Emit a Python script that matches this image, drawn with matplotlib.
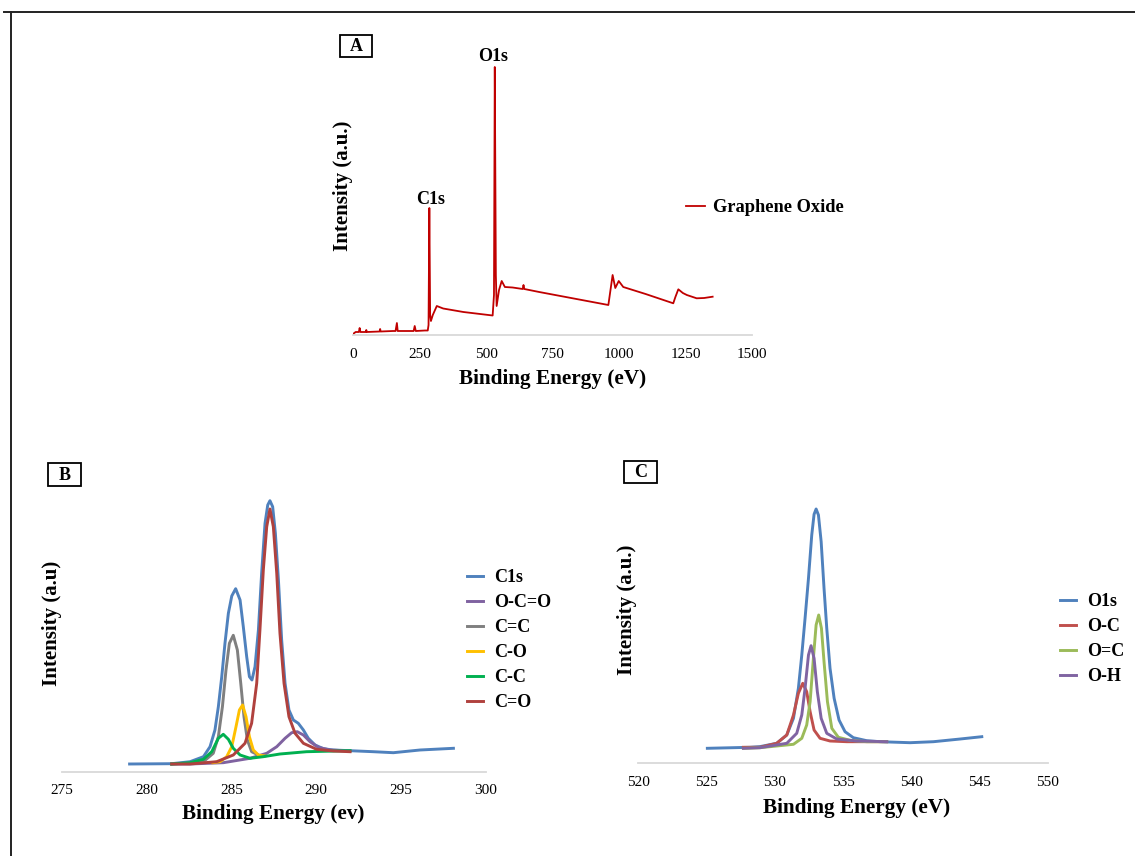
import matplotlib
matplotlib.use('Agg')
import matplotlib.pyplot as plt
from matplotlib.lines import Line2D
from matplotlib.patches import Rectangle

plt.rcParams['font.family'] = ['Liberation Serif', 'DejaVu Serif']

W, H = 1135, 856

# ---- panel A : survey spectrum (binding energy eV, intensity a.u.)
survey_ev = [0, 10, 22, 25, 28, 48, 50, 52, 100, 102, 104, 150, 160, 165, 168,
             200, 228, 232, 236, 270, 281, 284, 287, 290, 293, 300, 315, 339,
             415, 525, 530, 533, 537, 540, 549, 559, 571, 600, 638, 641, 644,
             700, 800, 900, 960, 968, 976, 986, 999, 1016, 1100, 1204, 1212,
             1223, 1240, 1255, 1292, 1320, 1352]
survey_int = [1, 3, 3, 7, 3, 3, 5, 3, 3.5, 6, 3.5, 4, 4, 12, 4,
              4, 4, 9, 4, 4.5, 4.5, 10, 127, 20, 14, 20, 29, 26.5,
              23, 19.5, 40, 268, 60, 29, 45, 54, 48, 47.5, 46, 50, 46,
              43, 38, 33, 30, 45, 60, 47, 54, 48, 41, 31.7, 38,
              45.7, 42, 40, 36.7, 37, 38.3]
survey_ticks = [0, 250, 500, 750, 1000, 1250, 1500]

# ---- panel B : C1s high resolution
c1s_ev = [279.0, 281.48, 282.56, 283.35, 283.74, 284.03, 284.23, 284.43, 284.62,
          284.82, 285.02, 285.25, 285.51, 285.7, 285.9, 286.06, 286.21, 286.39,
          286.59, 286.78, 286.98, 287.14, 287.27, 287.43, 287.59, 287.77,
          287.96, 288.16, 288.39, 288.65, 288.94, 289.24, 289.53, 289.93,
          290.42, 291.0, 291.99, 293.36, 294.54, 296.11, 298.08]
c1s_int = [7.7, 8, 10, 15, 25, 41.7, 65, 95, 128.4,
           158.4, 175.7, 183, 171.7, 145, 115, 95, 91.7, 105,
           141.7, 198.4, 248.4, 266.7, 271, 265, 238.4, 191.7,
           131.7, 88.4, 61.7, 51.7, 48.4, 41.7, 33.4, 26.7,
           23, 21.7, 21, 20, 19, 21.7, 23.4]

oco_ev = [281.48, 282.56, 284.52, 286.1, 287.08, 287.67, 288.16, 288.55, 288.88,
          289.24, 289.63, 290.12, 290.81, 291.99]
oco_int = [7.7, 7.7, 9, 13.4, 18.4, 25, 33.4, 39, 40, 36.7, 30, 24.4, 21.7, 20.7]

cc2_ev = [281.48, 282.56, 283.35, 283.93, 284.23, 284.47, 284.68, 284.88, 285.11,
          285.35, 285.55, 285.74, 285.94, 286.19, 286.59]
cc2_int = [7.7, 8.5, 10, 18.4, 35, 65, 101.7, 128.4, 136.4,
           121.7, 88.4, 55, 31.7, 20, 16.7]

co_ev = [283.9, 284.33, 284.72, 285.02, 285.27, 285.47, 285.66, 285.86, 286.06,
         286.29, 286.59, 286.98]
co_int = [9, 10, 15, 25, 45, 61.7, 66.7, 55, 35, 21.7, 16.7, 15.7]

cc_ev = [281.48, 282.56, 283.35, 283.84, 284.23, 284.52, 284.82, 285.11, 285.51,
         286.1, 286.88, 287.86, 289.43, 291.99]
cc_int = [7.7, 9, 12.4, 20, 33.4, 37.4, 32.4, 23.4, 16.7, 13.4, 15, 17.7, 20, 21]

cdo_ev = [281.48, 282.56, 284.13, 285.11, 285.8, 286.19, 286.49, 286.68, 286.88,
          287.08, 287.27, 287.47, 287.67, 287.86, 288.1, 288.39, 288.75,
          289.24, 290.02, 291.0, 291.99]
cdo_int = [7.7, 7.7, 10, 16.7, 28.4, 48.4, 88.4, 141.7, 201.7,
           245, 262.7, 245, 198.4, 138.4, 88.4, 55, 38.4,
           28.4, 22.4, 20.7, 20]
c1s_ticks = [275, 280, 285, 290, 295, 300]

# ---- panel C : O1s high resolution
o1s_ev = [525.06, 528.19, 528.92, 530.14, 530.88, 531.37, 531.73, 531.98, 532.22,
          532.47, 532.71, 532.88, 533.03, 533.2, 533.4, 533.61, 533.81, 534.05,
          534.35, 534.71, 535.15, 535.76, 536.74, 537.72, 539.92, 541.63,
          543.59, 545.17]
o1s_int = [15, 16, 16.7, 20, 28.3, 45, 75, 108.3, 145,
           185, 228.3, 249, 254.3, 248.3, 221.6, 175, 135, 95,
           65, 43.3, 31.6, 25.6, 22.6, 21.6, 20.6, 21.6, 24.3, 26.6]

oc_ev = [527.7, 528.92, 530.14, 530.88, 531.37, 531.73, 532.05, 532.34, 532.59,
         532.88, 533.32, 534.05, 535.28, 538.2]
oc_int = [16, 16, 20, 28.3, 48.3, 70, 80, 71.6, 51.6, 33.3, 25, 22.3, 21.6, 21.6]

odc_ev = [527.7, 528.92, 531.37, 531.98, 532.34, 532.59, 532.83, 533.03, 533.22,
          533.42, 533.61, 533.86, 534.18, 534.66, 535.52, 536.74, 538.2]
odc_int = [15, 15.6, 19, 25, 38.3, 61.6, 105, 138.3, 148.3,
           135, 101.6, 61.6, 35, 26, 23, 21.6, 21.6]

oh_ev = [527.7, 528.92, 530.88, 531.61, 531.98, 532.22, 532.47, 532.66, 532.88,
         533.12, 533.4, 533.81, 534.54, 536.01, 538.2]
oh_int = [15, 15.6, 20, 30, 48.3, 75, 108.3, 117.6, 105,
          71.6, 45, 30, 24.3, 22.3, 21.6]
o1s_ticks = [520, 525, 530, 535, 540, 545, 550]


def px(x, y):
    return x / W, 1 - y / H


def box(x0, y0, x1, y1):
    l, t = px(x0, y0)
    r, b = px(x1, y1)
    return [l, b, r - l, t - b]


def style(ax, ticks):
    for s in ['top', 'right', 'left']:
        ax.spines[s].set_visible(False)
    ax.spines['bottom'].set_color('#D9D9D9')
    ax.spines['bottom'].set_linewidth(1.3)
    ax.set_xlim(ticks[0], ticks[-1])
    ax.set_xticks(ticks)
    ax.set_yticks([])
    ax.tick_params(axis='x', length=0, pad=9, labelsize=11)


def tag(letter, x0, y0, x1, y1):
    l, t = px(x0, y0)
    r, b = px(x1, y1)
    fig.add_artist(Rectangle((l, b), r - l, t - b, transform=fig.transFigure,
                             fill=False, ec='black', lw=1.3))
    fig.text((l + r) / 2, (t + b) / 2 - 0.001, letter, ha='center', va='center',
             fontsize=13, fontweight='bold')


def curves(ax, series):
    for xs, ys, c, lab in series:
        ax.plot(xs, ys, color=c, lw=2.1, label=lab, solid_joinstyle='round')


fig = plt.figure(figsize=(W / 100, H / 100), dpi=100)

# frame
fig.add_artist(Line2D([4 / W, 1], [1 - 12 / H] * 2, transform=fig.transFigure, color='#222222', lw=1.4))
fig.add_artist(Line2D([11 / W] * 2, [0, 1 - 12 / H], transform=fig.transFigure, color='#222222', lw=1.4))

# panel A
axA = fig.add_axes(box(353, 60, 752, 335))
axA.plot(survey_ev, survey_int, color='#C00000', lw=1.3, label='Graphene Oxide')
style(axA, survey_ticks)
axA.set_ylim(0, 275)
axA.text(526, 270, 'O1s', ha='center', va='bottom', fontsize=13, fontweight='bold')
axA.text(290, 127, 'C1s', ha='center', va='bottom', fontsize=13, fontweight='bold')
axA.legend(loc='center left', bbox_to_anchor=px(686, 208), bbox_transform=fig.transFigure,
           frameon=False, borderpad=0, borderaxespad=0, handlelength=1.05, handletextpad=0.4,
           prop={'size': 13.2, 'weight': 'bold'})
fig.text(*px(553, 379), 'Binding Energy (eV)', ha='center', va='center', fontsize=15.3, fontweight='bold')
fig.text(*px(343, 186), 'Intensity (a.u.)', ha='center', va='center', rotation=90, fontsize=15, fontweight='bold')
tag('A', 340, 35, 372, 57)

# panel B
axB = fig.add_axes(box(61.7, 490, 486, 771.7))
curves(axB, [(c1s_ev, c1s_int, '#4F81BD', 'C1s'),
             (oco_ev, oco_int, '#7F62A0', 'O-C=O'),
             (cc2_ev, cc2_int, '#7F7F7F', 'C=C'),
             (co_ev, co_int, '#FFC000', 'C-O'),
             (cc_ev, cc_int, '#00B050', 'C-C'),
             (cdo_ev, cdo_int, '#B0413E', 'C=O')])
style(axB, c1s_ticks)
axB.set_ylim(0, 281.7)
axB.legend(loc='center left', bbox_to_anchor=px(467, 640), bbox_transform=fig.transFigure,
           frameon=False, borderpad=0, borderaxespad=0, handlelength=0.9, handletextpad=0.6,
           labelspacing=0.44, prop={'size': 13, 'weight': 'bold'})
fig.text(*px(273, 814), 'Binding Energy (ev)', ha='center', va='center', fontsize=15.3, fontweight='bold')
fig.text(*px(52, 623), 'Intensity (a.u)', ha='center', va='center', rotation=90, fontsize=15, fontweight='bold')
tag('B', 48, 463, 81, 486)

# panel C
axC = fig.add_axes(box(638.3, 490, 1047.7, 763.3))
curves(axC, [(o1s_ev, o1s_int, '#4F81BD', 'O1s'),
             (oc_ev, oc_int, '#C0504D', 'O-C'),
             (odc_ev, odc_int, '#9BBB59', 'O=C'),
             (oh_ev, oh_int, '#8064A2', 'O-H')])
style(axC, o1s_ticks)
axC.set_ylim(0, 273.3)
axC.legend(loc='center left', bbox_to_anchor=px(1060, 639), bbox_transform=fig.transFigure,
           frameon=False, borderpad=0, borderaxespad=0, handlelength=0.9, handletextpad=0.6,
           labelspacing=0.44, prop={'size': 13, 'weight': 'bold'})
fig.text(*px(857, 808), 'Binding Energy (eV)', ha='center', va='center', fontsize=15.3, fontweight='bold')
fig.text(*px(627, 610), 'Intensity (a.u.)', ha='center', va='center', rotation=90, fontsize=15, fontweight='bold')
tag('C', 624, 461, 657, 483)

fig.savefig('out.png', dpi=100)
